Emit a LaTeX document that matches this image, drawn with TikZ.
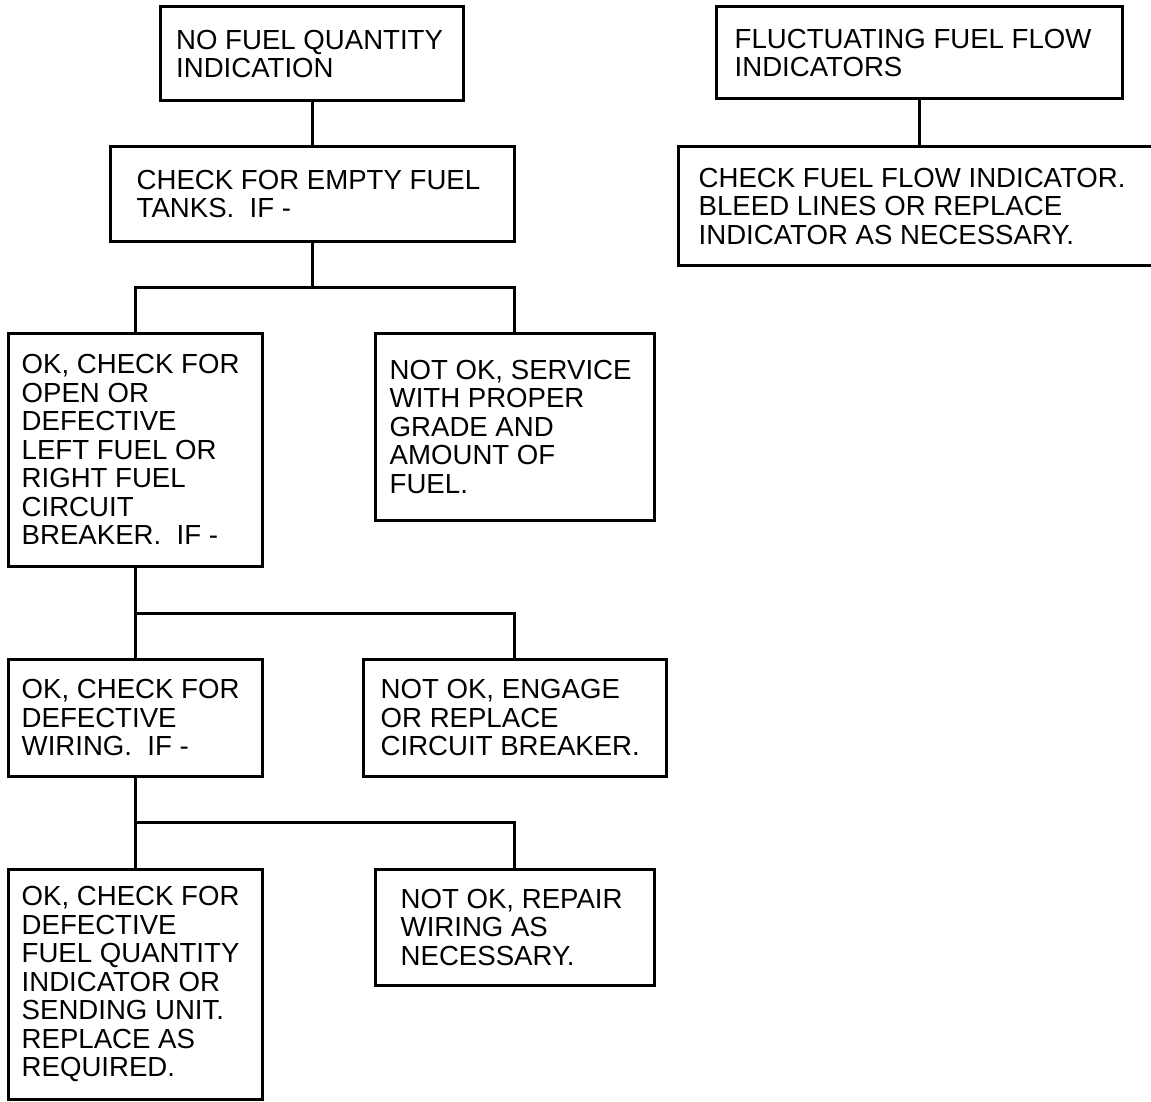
\documentclass[tikz,border=0pt]{standalone}
\usepackage{fontspec}
\setmainfont{Liberation Sans}
\usetikzlibrary{positioning}

\begin{document}
\begin{tikzpicture}[x=1pt,y=-1pt,
  box/.style={draw,line width=3pt,inner sep=0pt},
  txt/.style={inner sep=0pt,align=left,font=\fontsize{27.6}{28.5}\selectfont},
  wire/.style={line width=3pt}]
\useasboundingbox (0,0) rectangle (1151,1102);
% fuel quantity tree
\node[box,minimum width=303,minimum height=94] (noqty) at (312,54) {};
\node[box,minimum width=404,minimum height=94] (tanks) at (312,194) {};
\node[box,minimum width=254,minimum height=233] (breaker) at (135,449.5) {};
\node[box,minimum width=279,minimum height=187] (service) at (514.5,426.5) {};
\node[box,minimum width=254,minimum height=117] (wiring) at (135,717.5) {};
\node[box,minimum width=303,minimum height=117] (engage) at (514.5,717.5) {};
\node[box,minimum width=254,minimum height=230] (sender) at (135,984) {};
\node[box,minimum width=279,minimum height=116] (repair) at (514.5,927) {};
% fuel flow
\node[box,minimum width=406,minimum height=92] (fluct) at (919,53) {};
\node[box,minimum width=482,minimum height=118] (bleed) at (919,206) {};

\node[txt,right=17pt of noqty.west] (noqtytxt) {NO FUEL QUANTITY\\INDICATION};
\node[txt,right=28pt of tanks.west] (tankstxt) {CHECK FOR EMPTY FUEL\\TANKS.\ \ IF -};
\node[txt,right=15pt of breaker.west] (breakertxt) {OK, CHECK FOR\\OPEN OR\\DEFECTIVE\\LEFT FUEL OR\\RIGHT FUEL\\CIRCUIT\\BREAKER.\ \ IF -};
\node[txt,right=16pt of service.west] (servicetxt) {NOT OK, SERVICE\\WITH PROPER\\GRADE AND\\AMOUNT OF\\FUEL.};
\node[txt,right=15pt of wiring.west] (wiringtxt) {OK, CHECK FOR\\DEFECTIVE\\WIRING.\ \ IF -};
\node[txt,right=19pt of engage.west] (engagetxt) {NOT OK, ENGAGE\\OR REPLACE\\CIRCUIT BREAKER.};
\node[txt,right=15pt of sender.west] (sendertxt) {OK, CHECK FOR\\DEFECTIVE\\FUEL QUANTITY\\INDICATOR OR\\SENDING UNIT.\\REPLACE AS\\REQUIRED.};
\node[txt,right=27pt of repair.west] (repairtxt) {NOT OK, REPAIR\\WIRING AS\\NECESSARY.};
\node[txt,right=20pt of fluct.west] (flucttxt) {FLUCTUATING FUEL FLOW\\INDICATORS};
\node[txt,right=22pt of bleed.west] (bleedtxt) {CHECK FUEL FLOW INDICATOR.\\BLEED LINES OR REPLACE\\INDICATOR AS NECESSARY.};

% connectors
\coordinate (bus1) at (312,287);
\coordinate (bus2) at (135,613);
\coordinate (bus3) at (135,822);
\draw[wire] (noqty) -- (tanks);
\draw[wire] (tanks) -- (bus1);
\draw[wire] (breaker) |- (bus1) -| (service);
\draw[wire] (breaker) -- (bus2) -| (engage);
\draw[wire] (bus2) -- (wiring);
\draw[wire] (wiring) -- (bus3) -| (repair);
\draw[wire] (bus3) -- (sender);
\draw[wire] (fluct) -- (bleed);
\end{tikzpicture}
\end{document}
